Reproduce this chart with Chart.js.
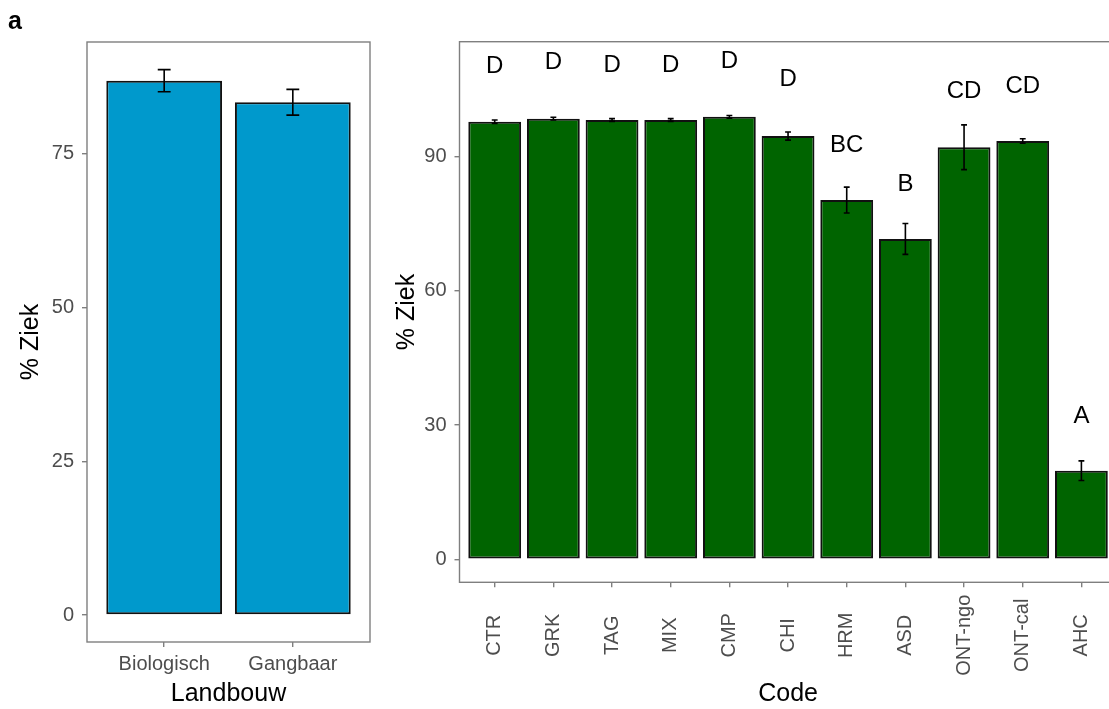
<!DOCTYPE html>
<html><head><meta charset="utf-8">
<script src="https://cdn.jsdelivr.net/npm/chart.js@4.4.0/dist/chart.umd.min.js"></script>
<style>
html,body{margin:0;padding:0;background:#fff;overflow:hidden;width:1109px;height:709px;}
#wrap{position:relative;width:1109px;height:709px;overflow:hidden;background:#fff;}
canvas{position:absolute;top:0;}
#c1{left:0;} #c2{left:380px;}
</style></head><body>
<div id="wrap"><canvas id="c1" width="380" height="709"></canvas><canvas id="c2" width="760" height="709"></canvas></div>
<script>
// ---- data ----
const landbouwCategories = ['Biologisch', 'Gangbaar'];
const landbouwZiek = [86.9, 83.4];
const landbouwSE = [1.8, 2.1];
const landbouwTicks = [0, 25, 50, 75];

const codeCategories = ['CTR','GRK','TAG','MIX','CMP','CHI','HRM','ASD','ONT-ngo','ONT-cal','AHC'];
const codeZiek = [97.8, 98.5, 98.2, 98.2, 98.9, 94.6, 80.3, 71.6, 92.1, 93.5, 19.8];
const codeSE = [0.4, 0.3, 0.3, 0.3, 0.3, 0.9, 2.9, 3.45, 5.0, 0.5, 2.2];
const codeLetters = ['D','D','D','D','D','D','BC','B','CD','CD','A'];
const codeLetterY = [110.1, 111.0, 110.5, 110.5, 111.2, 107.2, 92.6, 83.9, 104.5, 105.8, 32.0];
const codeTicks = [0, 30, 60, 90];

// ---- styling ----
const FONT = "'Liberation Sans', Arial, sans-serif";
Chart.defaults.font.family = FONT;
const TICK_COL = '#4D4D4D';
const LINE_COL = '#7F7F7F';

function errorBarPlugin(se, vals, capUnits, extra) {
  return {
    id: 'errs',
    afterDatasetsDraw(chart) {
      const ctx = chart.ctx, xs = chart.scales.x, ys = chart.scales.y;
      ctx.save();
      ctx.strokeStyle = '#000';
      ctx.lineWidth = 1.6;
      vals.forEach((v, i) => {
        const x = xs.getPixelForValue(i + 1);
        const half = Math.abs(xs.getPixelForValue(i + 1 + capUnits) - x);
        const yt = ys.getPixelForValue(v + se[i]);
        const yb = ys.getPixelForValue(v - se[i]);
        ctx.beginPath();
        ctx.moveTo(x, yt); ctx.lineTo(x, yb);
        ctx.moveTo(x - half, yt); ctx.lineTo(x + half, yt);
        ctx.moveTo(x - half, yb); ctx.lineTo(x + half, yb);
        ctx.stroke();
      });
      // panel border
      const a = chart.chartArea;
      ctx.strokeStyle = LINE_COL;
      ctx.lineWidth = 1.4;
      ctx.strokeRect(a.left, a.top, a.right - a.left, a.bottom - a.top);
      if (extra) extra(chart, ctx);
      ctx.restore();
    }
  };
}

function baseScales(cfg) {
  return {
    x: {
      type: 'linear', min: cfg.xmin, max: cfg.xmax, offset: false,
      afterBuildTicks: s => { s.ticks = cfg.cats.map((c, i) => ({ value: i + 1 })); },
      afterFit: s => { s.height = cfg.xh; },
      grid: { offset: false, drawOnChartArea: false, drawTicks: true, tickLength: 5, color: LINE_COL, lineWidth: 1.4 },
      border: { display: false },
      ticks: {
        display: cfg.xLabels, autoSkip: false, maxRotation: 0, minRotation: 0,
        color: TICK_COL, font: { size: 20 }, padding: 5,
        callback: v => cfg.cats[Math.round(v) - 1]
      },
      title: { display: true, text: cfg.xTitle, color: '#000', font: { size: 25 }, padding: { top: 0, bottom: 0 } }
    },
    y: {
      type: 'linear', min: cfg.ymin, max: cfg.ymax,
      afterBuildTicks: s => { s.ticks = cfg.yticks.map(v => ({ value: v })); },
      afterFit: s => { s.width = cfg.yw; },
      grid: { drawOnChartArea: false, drawTicks: true, tickLength: 5, color: LINE_COL, lineWidth: 1.4 },
      border: { display: false },
      ticks: { color: TICK_COL, font: { size: 20 }, padding: 8, callback: v => String(v) },
      title: { display: true, text: '% Ziek', color: '#000', font: { size: 25 }, padding: { top: cfg.yTitlePad, bottom: 0 } }
    }
  };
}

// ---- left chart ----
new Chart(document.getElementById('c1'), {
  type: 'bar',
  data: {
    datasets: [{
      data: landbouwCategories.map((c, i) => ({ x: i + 1, y: landbouwZiek[i] })),
      backgroundColor: '#0099CC', borderColor: '#111', borderWidth: 2, borderSkipped: false,
      barPercentage: 0.9, categoryPercentage: 1.0
    }]
  },
  options: {
    responsive: false, animation: false, devicePixelRatio: 1,
    layout: { padding: { top: 42, right: 10, bottom: 0, left: 0 } },
    plugins: { legend: { display: false }, tooltip: { enabled: false } },
    scales: baseScales({ cats: landbouwCategories, xmin: 0.4, xmax: 2.6, xh: 67, xLabels: true, xTitle: 'Landbouw',
      ymin: -4.39, ymax: 93.2, yticks: landbouwTicks, yw: 87, yTitlePad: 16 })
  },
  plugins: [errorBarPlugin(landbouwSE, landbouwZiek, 0.05, (chart, ctx) => {
    ctx.fillStyle = '#000';
    ctx.font = 'bold 25px ' + FONT;
    ctx.textAlign = 'left'; ctx.textBaseline = 'alphabetic';
    ctx.fillText('a', 8, 29);
  })]
});

// ---- right chart ----
new Chart(document.getElementById('c2'), {
  type: 'bar',
  data: {
    datasets: [{
      data: codeCategories.map((c, i) => ({ x: i + 1, y: codeZiek[i] })),
      backgroundColor: '#006400', borderColor: '#111', borderWidth: 2, borderSkipped: false,
      barPercentage: 0.9, categoryPercentage: 1.0
    }]
  },
  options: {
    responsive: false, animation: false, devicePixelRatio: 1,
    layout: { padding: { top: 41.7, right: 23.4, bottom: 0, left: 0 } },
    plugins: { legend: { display: false }, tooltip: { enabled: false } },
    scales: baseScales({ cats: codeCategories, xmin: 0.4, xmax: 11.6, xh: 126.7, xLabels: false, xTitle: 'Code',
      ymin: -5.14, ymax: 115.7, yticks: codeTicks, yw: 79.5, yTitlePad: 12 })
  },
  plugins: [errorBarPlugin(codeSE, codeZiek, 0.05, (chart, ctx) => {
    const xs = chart.scales.x, ys = chart.scales.y, a = chart.chartArea;
    // group letters
    ctx.fillStyle = '#000';
    ctx.font = '24px ' + FONT;
    ctx.textAlign = 'center'; ctx.textBaseline = 'middle';
    codeLetters.forEach((t, i) => {
      ctx.fillText(t, xs.getPixelForValue(i + 1), ys.getPixelForValue(codeLetterY[i]));
    });
    // rotated category labels (centred)
    ctx.fillStyle = TICK_COL;
    ctx.font = '20px ' + FONT;
    codeCategories.forEach((t, i) => {
      ctx.save();
      ctx.translate(xs.getPixelForValue(i + 1), a.bottom + 53);
      ctx.rotate(-Math.PI / 2);
      ctx.textAlign = 'center'; ctx.textBaseline = 'middle';
      ctx.fillText(t, 0, 0);
      ctx.restore();
    });
  })]
});
</script>
</body></html>
